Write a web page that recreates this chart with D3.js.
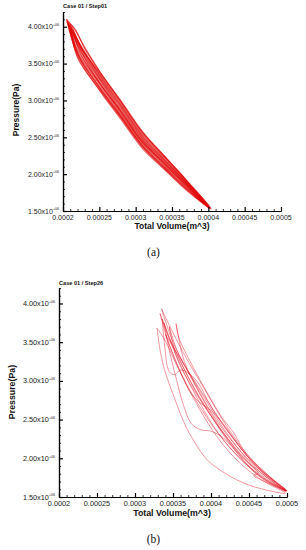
<!DOCTYPE html>
<html><head><meta charset="utf-8">
<script src="https://cdn.jsdelivr.net/npm/d3@7"></script>
<style>html,body{margin:0;padding:0;background:#fff;}svg{display:block;}</style>
</head><body>
<svg id="c" width="306" height="550"></svg>
<script>
// ---------- data ----------
// curve points: volume in units of 1e-4 m^3, pressure in units of 1e6 Pa
const xTickValues = [0.0002, 0.00025, 0.0003, 0.00035, 0.0004, 0.00045, 0.0005];
const xTickLabels = ["0.0002", "0.00025", "0.0003", "0.00035", "0.0004", "0.00045", "0.0005"];
const yTickValues = [1.5, 2.0, 2.5, 3.0, 3.5, 4.0];
const yTickLabels = ["1.50x10", "2.00x10", "2.50x10", "3.00x10", "3.50x10", "4.00x10"];
const yTickExponent = "+06";
const titles = ["Case 01 / Step01", "Case 01 / Step26"];
const panelTags = ["(a)", "(b)"];

const loopsA = [
  [[2.05,4.10],[2.2,3.80],[2.5,3.36],[2.8,2.95],[3.1,2.53],[3.4,2.22],[3.7,1.90],[4.02,1.54],[3.7,1.82],[3.4,2.10],[3.1,2.38],[2.8,2.78],[2.5,3.18],[2.2,3.62],[2.05,4.10]],
  [[2.08,4.05],[2.17,3.96],[2.3,3.70],[2.5,3.40],[2.8,2.98],[3.1,2.56],[3.4,2.24],[3.7,1.91],[4.0,1.55],[3.7,1.84],[3.4,2.12],[3.1,2.41],[2.8,2.81],[2.5,3.22],[2.2,3.66],[2.08,4.05]],
  [[2.10,4.02],[2.2,3.76],[2.5,3.30],[2.8,2.88],[3.1,2.47],[3.4,2.17],[3.7,1.87],[4.03,1.53],[3.7,1.80],[3.4,2.08],[3.1,2.36],[2.8,2.76],[2.5,3.15],[2.2,3.58],[2.10,4.02]],
  [[2.06,4.08],[2.2,3.74],[2.5,3.28],[2.8,2.86],[3.1,2.45],[3.4,2.15],[3.7,1.85],[4.01,1.53],[3.7,1.83],[3.4,2.13],[3.1,2.42],[2.8,2.83],[2.5,3.24],[2.2,3.69],[2.06,4.08]],
  [[2.12,4.00],[2.25,3.72],[2.5,3.33],[2.8,2.92],[3.1,2.50],[3.4,2.19],[3.7,1.88],[4.02,1.54],[3.7,1.85],[3.4,2.14],[3.1,2.43],[2.8,2.84],[2.5,3.24],[2.25,3.62],[2.12,4.00]],
  [[2.07,4.06],[2.2,3.78],[2.5,3.38],[2.8,2.97],[3.1,2.55],[3.4,2.23],[3.7,1.91],[4.04,1.53],[3.7,1.78],[3.4,2.06],[3.1,2.34],[2.8,2.74],[2.5,3.14],[2.2,3.60],[2.07,4.06]],
  [[2.14,3.96],[2.3,3.62],[2.5,3.31],[2.8,2.90],[3.1,2.48],[3.4,2.18],[3.7,1.88],[4.0,1.56],[3.7,1.86],[3.4,2.15],[3.1,2.44],[2.8,2.85],[2.5,3.25],[2.3,3.57],[2.14,3.96]],
  [[2.05,4.10],[2.15,3.98],[2.3,3.72],[2.5,3.40],[2.8,2.99],[3.1,2.57],[3.4,2.24],[3.7,1.92],[4.03,1.54],[3.7,1.81],[3.4,2.09],[3.1,2.39],[2.8,2.79],[2.5,3.19],[2.2,3.64],[2.05,4.10]],
  [[2.09,4.04],[2.22,3.79],[2.5,3.35],[2.8,2.93],[3.1,2.51],[3.4,2.20],[3.7,1.89],[4.02,1.55],[3.7,1.79],[3.4,2.07],[3.1,2.37],[2.8,2.77],[2.5,3.17],[2.22,3.60],[2.09,4.04]]
];

const loopsB = [
  [[3.35,3.93],[3.5,3.62],[3.7,3.25],[3.9,2.92],[4.1,2.58],[4.3,2.28],[4.5,2.02],[4.75,1.78],[4.98,1.58],[4.75,1.74],[4.5,1.96],[4.3,2.20],[4.1,2.48],[3.9,2.80],[3.7,3.12],[3.5,3.50],[3.35,3.93]],
  [[3.29,3.68],[3.33,3.40],[3.39,3.14],[3.53,2.75],[3.66,2.43],[3.79,2.20],[3.95,1.98],[4.18,1.81],[4.51,1.65],[4.98,1.55],[4.7,1.70],[4.4,1.92],[4.1,2.25],[3.8,2.72],[3.55,3.20],[3.38,3.55],[3.29,3.68]],
  [[3.54,3.74],[3.58,3.55],[3.7,3.30],[3.85,3.02],[4.0,2.76],[4.15,2.52],[4.3,2.33],[4.42,2.12],[4.6,1.92],[4.8,1.74],[4.98,1.60],[4.7,1.80],[4.4,2.08],[4.1,2.45],[3.85,2.85],[3.65,3.25],[3.54,3.74]],
  [[3.33,3.87],[3.45,3.55],[3.6,3.28],[3.75,3.05],[3.95,2.75],[4.15,2.45],[4.35,2.18],[4.6,1.90],[4.85,1.70],[5.0,1.58],[4.8,1.68],[4.55,1.85],[4.3,2.08],[4.05,2.38],[3.8,2.75],[3.58,3.15],[3.42,3.55],[3.33,3.87]],
  [[3.36,3.80],[3.39,3.45],[3.45,3.12],[3.52,3.08],[3.60,3.14],[3.72,3.09],[3.84,2.96],[3.97,2.72],[4.12,2.48],[4.3,2.25],[4.5,2.00],[4.75,1.76],[4.98,1.58],[4.6,1.80],[4.3,2.12],[4.0,2.55],[3.7,3.05],[3.5,3.45],[3.36,3.80]],
  [[3.38,3.75],[3.45,3.40],[3.55,3.00],[3.64,2.68],[3.74,2.45],[3.86,2.37],[4.0,2.35],[4.14,2.28],[4.28,2.15],[4.45,1.98],[4.65,1.82],[4.85,1.67],[4.99,1.57],[4.7,1.72],[4.4,1.98],[4.1,2.32],[3.85,2.72],[3.6,3.20],[3.45,3.55],[3.38,3.75]],
  [[3.40,3.60],[3.52,3.30],[3.65,3.00],[3.75,2.82],[3.88,2.70],[4.02,2.60],[4.18,2.42],[4.4,2.12],[4.65,1.85],[4.9,1.65],[5.0,1.58],[4.75,1.72],[4.45,1.98],[4.2,2.28],[3.95,2.62],[3.75,2.95],[3.55,3.35],[3.40,3.60]],
  [[3.45,3.70],[3.55,3.40],[3.75,3.02],[3.95,2.66],[4.15,2.35],[4.35,2.10],[4.5,1.94],[4.62,1.80],[4.56,1.78],[4.64,1.73],[4.85,1.64],[4.99,1.58],[4.75,1.70],[4.5,1.90],[4.25,2.20],[4.0,2.55],[3.75,2.92],[3.55,3.30],[3.45,3.70]]
];

// ---------- drawing ----------
const svg = d3.select("#c");
const FONT = "'Liberation Sans', Arial, sans-serif";

const panels = [
  {loops: loopsA, x0: 63, x1: 281, yBottom: 211, yTop: 12, title: titles[0], tag: panelTags[0],
   titleY: 8.3, xLabY: 220, xTitleY: 229, yTitleX: 19, yTitleY: 110, tagY: 255.5,
   lineW: 1.15, lineOp: 0.6, color: "#e00000", fs: 7, titleFs: 8.5},
  {loops: loopsB, x0: 59, x1: 287, yBottom: 497, yTop: 288, title: titles[1], tag: panelTags[1],
   titleY: 284.5, xLabY: 506, xTitleY: 515.5, yTitleX: 15, yTitleY: 392, tagY: 543,
   lineW: 0.8, lineOp: 0.55, color: "#e01020", fs: 7.3, titleFs: 8.8}
];

panels.forEach(p => {
  const x = d3.scaleLinear().domain([0.0002, 0.0005]).range([p.x0, p.x1]);
  const y = d3.scaleLinear().domain([1.5, 4.2]).range([p.yBottom, p.yTop]);
  const g = svg.append("g");

  // curves
  const line = d3.line()
    .x(d => x(d[0] * 1e-4))
    .y(d => y(d[1]))
    .curve(d3.curveCatmullRom.alpha(0.5));
  g.append("g").selectAll("path").data(p.loops).join("path")
    .attr("d", line)
    .attr("fill", "none")
    .attr("stroke", p.color)
    .attr("stroke-width", p.lineW)
    .attr("stroke-opacity", p.lineOp);

  // minor ticks
  const xMinor = d3.range(20, 51).map(v => v * 1e-5).filter(v => !xTickValues.some(t => Math.abs(t - v) < 1e-9));
  const yMinor = d3.range(15, 43).map(v => v / 10).filter(v => !yTickValues.some(t => Math.abs(t - v) < 1e-9));

  const xAxisMinor = d3.axisBottom(x).tickValues(xMinor).tickSizeInner(-2).tickSizeOuter(0).tickFormat("");
  const xAxisMajor = d3.axisBottom(x).tickValues(xTickValues).tickSizeInner(-4).tickSizeOuter(0).tickFormat("");
  const yAxisMinor = d3.axisLeft(y).tickValues(yMinor).tickSizeInner(-2).tickSizeOuter(0).tickFormat("");
  const yAxisMajor = d3.axisLeft(y).tickValues(yTickValues).tickSizeInner(-4).tickSizeOuter(0).tickFormat("");

  [xAxisMinor, xAxisMajor].forEach(ax => {
    const a = g.append("g").attr("transform", `translate(0,${p.yBottom})`).call(ax);
    a.select(".domain").attr("stroke", "#000").attr("stroke-width", 1.2);
    a.selectAll(".tick line").attr("stroke", "#000").attr("stroke-width", ax === xAxisMajor ? 1.2 : 0.8);
  });
  [yAxisMinor, yAxisMajor].forEach(ax => {
    const a = g.append("g").attr("transform", `translate(${p.x0},0)`).call(ax);
    a.select(".domain").attr("stroke", "#000").attr("stroke-width", 1.2);
    a.selectAll(".tick line").attr("stroke", "#000").attr("stroke-width", ax === yAxisMajor ? 1.2 : 0.8);
  });

  // x tick labels
  g.append("g").selectAll("text").data(xTickValues).join("text")
    .attr("x", d => x(d)).attr("y", p.xLabY)
    .attr("text-anchor", "middle")
    .attr("font-family", FONT).attr("font-size", p.fs).attr("fill", "#222")
    .text((d, i) => xTickLabels[i]);

  // y tick labels with superscript exponent
  const yl = g.append("g").selectAll("text").data(yTickValues).join("text")
    .attr("x", p.x0 - 4).attr("y", d => y(d) + 2.5)
    .attr("text-anchor", "end")
    .attr("font-family", FONT).attr("font-size", p.fs).attr("fill", "#222");
  yl.append("tspan").text((d, i) => yTickLabels[i]);
  yl.append("tspan").attr("dy", -3.2).attr("font-size", 3.6).text(yTickExponent);

  // titles
  g.append("text").attr("x", p.x0).attr("y", p.titleY)
    .attr("font-family", FONT).attr("font-weight", "bold").attr("font-size", 5.6)
    .attr("fill", "#111").text(p.title);

  g.append("text").attr("x", 172).attr("y", p.xTitleY).attr("text-anchor", "middle")
    .attr("font-family", FONT).attr("font-weight", "bold").attr("font-size", p.titleFs)
    .attr("fill", "#111").text("Total Volume(m^3)");

  g.append("text").attr("transform", `translate(${p.yTitleX},${p.yTitleY}) rotate(-90)`)
    .attr("text-anchor", "middle")
    .attr("font-family", FONT).attr("font-weight", "bold").attr("font-size", p.titleFs)
    .attr("fill", "#111").text("Pressure(Pa)");

  g.append("text").attr("x", 153.5).attr("y", p.tagY).attr("text-anchor", "middle")
    .attr("font-family", "'Liberation Serif', 'DejaVu Serif', serif").attr("font-size", 11.5)
    .attr("fill", "#111").text(p.tag);
});
</script>
</body></html>
